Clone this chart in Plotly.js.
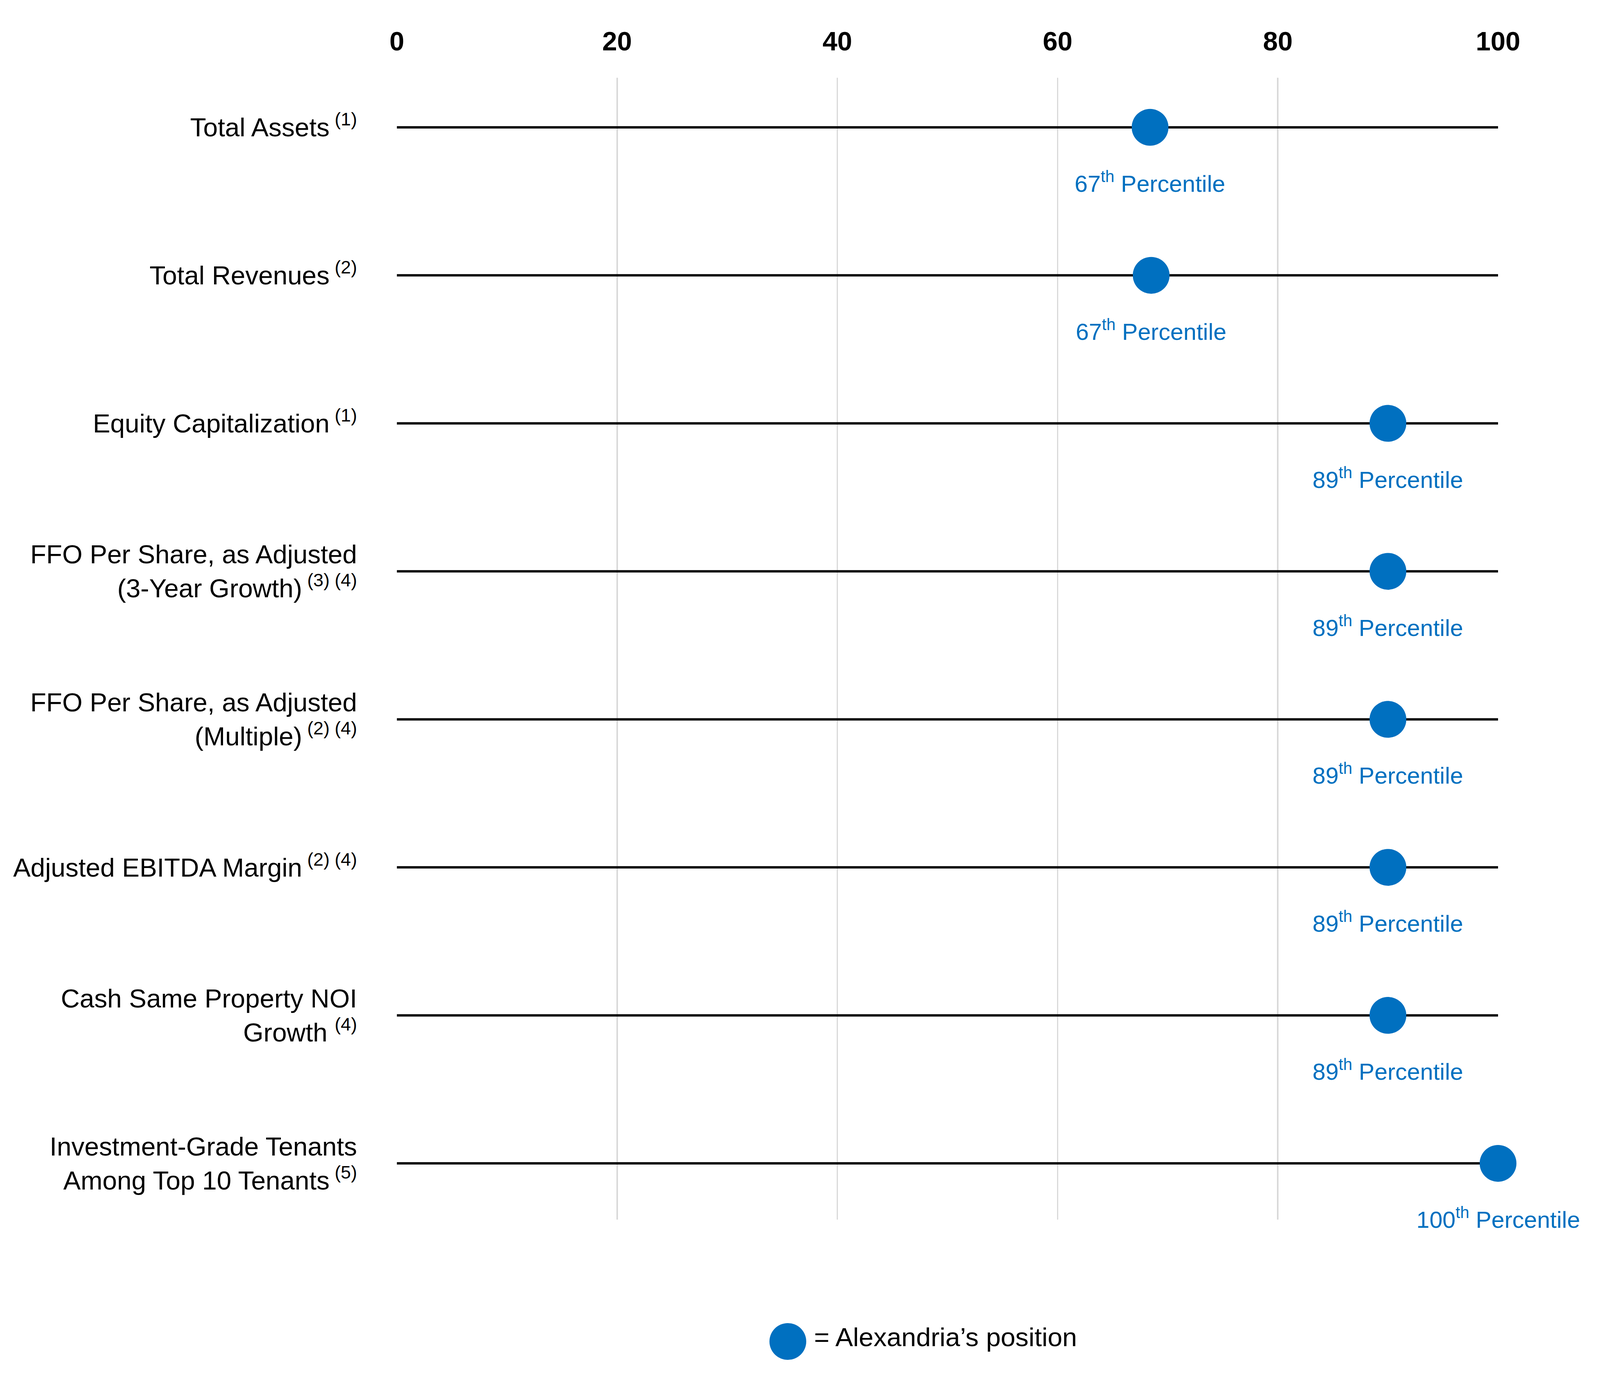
<!DOCTYPE html>
<html>
<head>
<meta charset="utf-8">
<script src="https://cdn.plot.ly/plotly-3.0.1.min.js"></script>
<style>
  html, body { margin: 0; padding: 0; background: #ffffff; overflow: hidden; }
  #chart { position: absolute; left: 0; top: 0; }
</style>
</head>
<body>
<div id="chart"></div>
<script>
// ---- data ----
const categories = [
  "Total Assets<sup> (1)</sup>",
  "Total Revenues<sup> (2)</sup>",
  "Equity Capitalization<sup> (1)</sup>",
  "FFO Per Share, as Adjusted<br>(3-Year Growth)<sup> (3) (4)</sup>",
  "FFO Per Share, as Adjusted<br>(Multiple)<sup> (2) (4)</sup>",
  "Adjusted EBITDA Margin<sup> (2) (4)</sup>",
  "Cash Same Property NOI<br>Growth <sup>(4)</sup>",
  "Investment-Grade Tenants<br>Among Top 10 Tenants<sup> (5)</sup>"
];
const positionValues = [68.4, 68.5, 90, 90, 90, 90, 90, 100];
const percentileRanks = [67, 67, 89, 89, 89, 89, 89, 100];
const scaleStart = 0;
const scaleEnd = 100;
const xTickValues = [0, 20, 40, 60, 80, 100];
const xTickLabels = ["0", "20", "40", "60", "80", "100"];
const legendLabel = "= Alexandria\u2019s position";

// ---- derived ----
const rowIndex = categories.map((_, i) => i);
const lineX = [];
const lineY = [];
rowIndex.forEach(i => { lineX.push(scaleStart, scaleEnd, null); lineY.push(i, i, null); });
const pointText = percentileRanks.map(p => p + "<sup>th</sup> Percentile");

const FONT = "Liberation Sans, Arial, Helvetica, sans-serif";
const BLUE = "#0070C0";

// design size (reference) and actual viewport
const DW = 6000, DH = 3571;
const W = window.innerWidth || DW, H = window.innerHeight || DH;
const sx = W / DW, sy = H / DH, s = Math.min(sx, sy);

const chartDiv = document.getElementById("chart");
chartDiv.style.width = W + "px";
chartDiv.style.height = H + "px";

const L = 1489 * sx, R = 382 * sx, T = 199 * sy, B = 449 * sy;
const plotW = W - L - R, plotH = H - T - B;
const px2paperX = x => (x * sx - L) / plotW;
const px2paperY = y => (H - B - y * sy) / plotH;

const DOT = 138 * s;

const traces = [
  {
    type: "scatter", mode: "lines",
    x: lineX, y: lineY,
    line: { color: "#000000", width: 6 * sy },
    hoverinfo: "skip", showlegend: false, cliponaxis: false
  },
  {
    type: "scatter", mode: "markers",
    x: positionValues, y: rowIndex,
    marker: { size: DOT, color: BLUE, line: { width: 0 } },
    showlegend: false, cliponaxis: false
  }
];

const labelAnnotations = positionValues.map((v, i) => ({
  xref: "x", yref: "y",
  x: v, y: rowIndex[i],
  xanchor: "center", yanchor: "middle",
  yshift: -140 * sy,
  text: pointText[i], showarrow: false,
  font: { family: FONT, size: 88 * s, color: BLUE }
}));

const layout = {
  width: W, height: H,
  margin: { l: L, r: R, t: T, b: B, autoexpand: false },
  paper_bgcolor: "#ffffff",
  plot_bgcolor: "#ffffff",
  showlegend: false,
  font: { family: FONT, color: "#000000" },
  xaxis: {
    side: "top",
    range: [scaleStart, scaleEnd],
    tickmode: "array",
    tickvals: xTickValues,
    ticktext: xTickLabels,
    tickfont: { family: FONT, size: 100 * s, color: "#000000", weight: 700 },
    ticks: "",
    ticklabelstandoff: Math.round(55 * sy),
    showgrid: true,
    gridcolor: "#d9d9d9",
    gridwidth: 5 * sx,
    zeroline: false,
    showline: false,
    fixedrange: true
  },
  yaxis: {
    range: [7.38, -0.335],
    tickmode: "array",
    tickvals: rowIndex,
    ticktext: categories,
    tickfont: { family: FONT, size: 98 * s, color: "#000000" },
    ticks: "",
    ticklabelstandoff: Math.round(148 * sx),
    showgrid: false,
    zeroline: false,
    showline: false,
    fixedrange: true
  },
  shapes: [
    {
      type: "circle", xref: "paper", yref: "paper",
      xsizemode: "pixel", ysizemode: "pixel",
      xanchor: px2paperX(2955), yanchor: px2paperY(3434),
      x0: -DOT / 2, x1: DOT / 2, y0: -DOT / 2, y1: DOT / 2,
      fillcolor: BLUE, line: { width: 0 }
    }
  ],
  annotations: labelAnnotations.concat([
    {
      xref: "paper", yref: "paper",
      x: px2paperX(3050), y: px2paperY(3422),
      xanchor: "left", yanchor: "middle",
      text: legendLabel, showarrow: false,
      font: { family: FONT, size: 99 * s, color: "#000000" }
    }
  ])
};

Plotly.newPlot("chart", traces, layout, { displayModeBar: false, staticPlot: true });
</script>
</body>
</html>
